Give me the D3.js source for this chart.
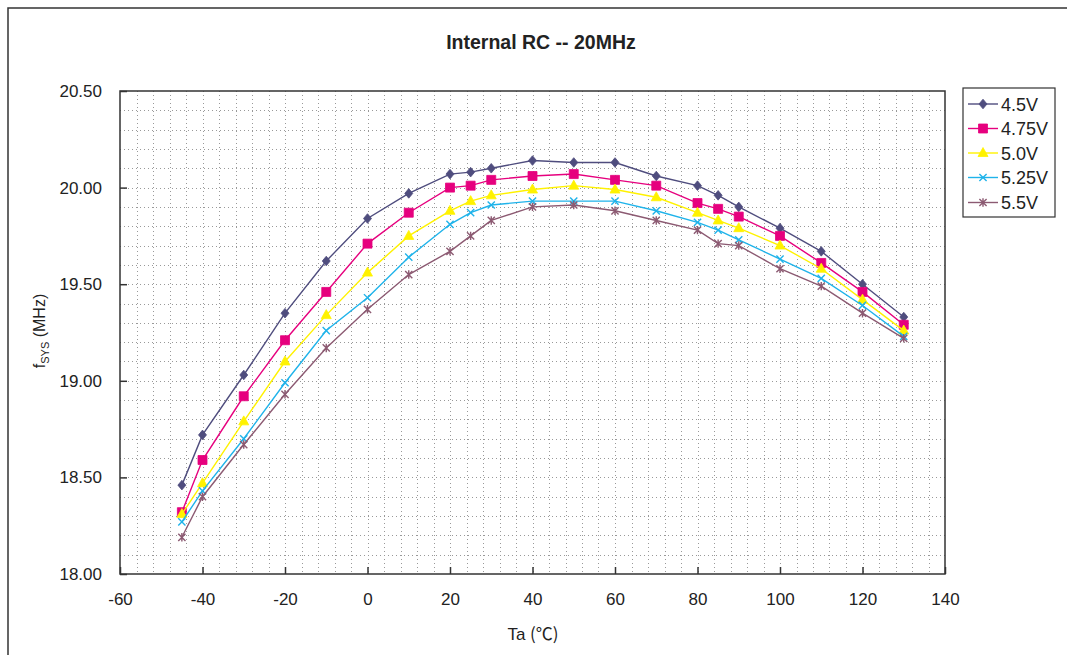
<!DOCTYPE html>
<html>
<head>
<meta charset="utf-8">
<script src="https://cdn.jsdelivr.net/npm/d3@7"></script>
<style>
  html, body { margin: 0; padding: 0; background: #fff; }
  svg { display: block; font-family: "Liberation Sans", Arial, sans-serif; }
</style>
</head>
<body>
<svg id="chart" width="1067" height="655"></svg>
<script>
const temps = [-45, -40, -30, -20, -10, 0, 10, 20, 25, 30, 40, 50, 60, 70, 80, 85, 90, 100, 110, 120, 130];
const v45  = [18.46, 18.72, 19.03, 19.35, 19.62, 19.84, 19.97, 20.07, 20.08, 20.10, 20.14, 20.13, 20.13, 20.06, 20.01, 19.96, 19.90, 19.79, 19.67, 19.50, 19.33];
const v475 = [18.32, 18.59, 18.92, 19.21, 19.46, 19.71, 19.87, 20.00, 20.01, 20.04, 20.06, 20.07, 20.04, 20.01, 19.92, 19.89, 19.85, 19.75, 19.61, 19.46, 19.29];
const v50  = [18.31, 18.47, 18.79, 19.10, 19.34, 19.56, 19.75, 19.88, 19.93, 19.96, 19.99, 20.01, 19.99, 19.95, 19.87, 19.83, 19.79, 19.70, 19.58, 19.42, 19.26];
const v525 = [18.27, 18.43, 18.70, 18.99, 19.26, 19.43, 19.64, 19.81, 19.87, 19.91, 19.93, 19.93, 19.93, 19.88, 19.82, 19.78, 19.73, 19.63, 19.53, 19.39, 19.23];
const v55  = [18.19, 18.40, 18.67, 18.93, 19.17, 19.37, 19.55, 19.67, 19.75, 19.83, 19.90, 19.91, 19.88, 19.83, 19.78, 19.71, 19.70, 19.58, 19.49, 19.35, 19.22];
const seriesNames = ["4.5V", "4.75V", "5.0V", "5.25V", "5.5V"];
const seriesValues = [v45, v475, v50, v525, v55];
const seriesColors = ["#4f4d7e", "#e6007e", "#fff200", "#1fb3ea", "#8c5a72"];
const seriesMarkers = ["diamond", "square", "triangle", "x", "asterisk"];
const xTicks = [-60, -40, -20, 0, 20, 40, 60, 80, 100, 120, 140];
const yTicks = [18.0, 18.5, 19.0, 19.5, 20.0, 20.5];
const titleText = "Internal RC -- 20MHz";

const svg = d3.select("#chart");
const L = 120, R = 945, T = 91, B = 574;
const x = d3.scaleLinear().domain([-60, 140]).range([L, R]);
const y = d3.scaleLinear().domain([18, 20.5]).range([B, T]);

// outer frame (left + top visible)
svg.append("rect").attr("x", 8).attr("y", 8).attr("width", 1100).attr("height", 700)
  .attr("fill", "none").attr("stroke", "#333").attr("stroke-width", 1.5);

// title
svg.append("text").attr("x", 541).attr("y", 49).attr("text-anchor", "middle")
  .attr("font-size", 19.5).attr("font-weight", "bold").attr("fill", "#222").text(titleText);

// grid
const grid = svg.append("g");
d3.range(-56, 140, 4).forEach(v => {
  const px = Math.round(x(v)) + 0.5;
  grid.append("line").attr("x1", px).attr("x2", px).attr("y1", T).attr("y2", B)
    .attr("stroke", "#999").attr("stroke-width", 1).attr("stroke-dasharray", "1,3");
});
d3.range(1, 25).forEach(i => {
  const py = Math.round(y(18 + i * 0.1)) + 0.5;
  grid.append("line").attr("x1", L).attr("x2", R).attr("y1", py).attr("y2", py)
    .attr("stroke", "#999").attr("stroke-width", 1).attr("stroke-dasharray", "1,3");
});

// axes
const xAxis = d3.axisBottom(x).tickValues(xTicks).tickSizeInner(-7).tickSizeOuter(0).tickPadding(19)
  .tickFormat(d => String(d));
const yAxis = d3.axisLeft(y).tickValues(yTicks).tickSizeInner(-7).tickSizeOuter(0).tickPadding(18)
  .tickFormat(d => d.toFixed(2));
const gx = svg.append("g").attr("transform", `translate(0,${B})`).call(xAxis);
const gy = svg.append("g").attr("transform", `translate(${L},0)`).call(yAxis);
[gx, gy].forEach(g => {
  g.select(".domain").remove();
  g.selectAll("line").attr("stroke", "#333").attr("stroke-width", 1.5);
  g.selectAll("text").attr("font-size", 17).attr("fill", "#222")
    .style("font-family", "'Liberation Sans', Arial, sans-serif");
});

// plot frame
svg.append("rect").attr("x", L).attr("y", T).attr("width", R - L).attr("height", B - T)
  .attr("fill", "none").attr("stroke", "#333").attr("stroke-width", 1.5);

// axis titles
const xt = svg.append("text").attr("x", 533).attr("y", 640).attr("text-anchor", "middle")
  .attr("font-size", 17).attr("fill", "#222");
xt.append("tspan").text("Ta ");
xt.append("tspan").style("font-family", "'Noto Sans CJK SC', sans-serif").attr("font-size", 17).text("(℃)");
const yt = svg.append("text").attr("transform", "translate(45,331) rotate(-90)")
  .attr("text-anchor", "middle").attr("font-size", 16).attr("fill", "#222");
yt.append("tspan").text("f");
yt.append("tspan").attr("font-size", 11).attr("dy", 4).text("SYS");
yt.append("tspan").attr("dy", -4).text(" (MHz)");

function markerPath(type) {
  switch (type) {
    case "diamond": return "M0,-4.8L4,0L0,4.8L-4,0Z";
    case "square": return "M-4.5,-4.5H4.5V4.5H-4.5Z";
    case "triangle": return "M0,-5.5L5,3.5L-5,3.5Z";
    case "x": return "M-3.6,-3.6L3.6,3.6M-3.6,3.6L3.6,-3.6";
    case "asterisk": return "M-3.6,-3.6L3.6,3.6M-3.6,3.6L3.6,-3.6M0,-4.2L0,4.2";
  }
}
function drawMarker(g, type, color, cx, cy) {
  const filled = type === "diamond" || type === "square" || type === "triangle";
  g.append("path").attr("d", markerPath(type)).attr("transform", `translate(${cx},${cy})`)
    .attr("fill", filled ? color : "none").attr("stroke", color)
    .attr("stroke-width", filled ? 0.8 : 1.4);
}

const line = d3.line().x(d => x(d[0])).y(d => y(d[1]));
seriesValues.forEach((vals, i) => {
  const pts = temps.map((t, j) => [t, vals[j]]);
  const g = svg.append("g");
  g.append("path").attr("d", line(pts)).attr("fill", "none")
    .attr("stroke", seriesColors[i]).attr("stroke-width", 1.4);
  pts.forEach(p => drawMarker(g, seriesMarkers[i], seriesColors[i], x(p[0]), y(p[1])));
});

// legend
const lg = svg.append("g");
lg.append("rect").attr("x", 963).attr("y", 88).attr("width", 92).attr("height", 129)
  .attr("fill", "#fff").attr("stroke", "#333").attr("stroke-width", 1.2);
const legY = [104, 128.5, 153, 177.5, 202.5];
seriesNames.forEach((n, i) => {
  lg.append("line").attr("x1", 968).attr("x2", 998).attr("y1", legY[i]).attr("y2", legY[i])
    .attr("stroke", seriesColors[i]).attr("stroke-width", 1.4);
  drawMarker(lg, seriesMarkers[i], seriesColors[i], 983, legY[i]);
  lg.append("text").attr("x", 1001).attr("y", legY[i] + 6.5).attr("font-size", 18)
    .attr("fill", "#222").text(n);
});
</script>
</body>
</html>
